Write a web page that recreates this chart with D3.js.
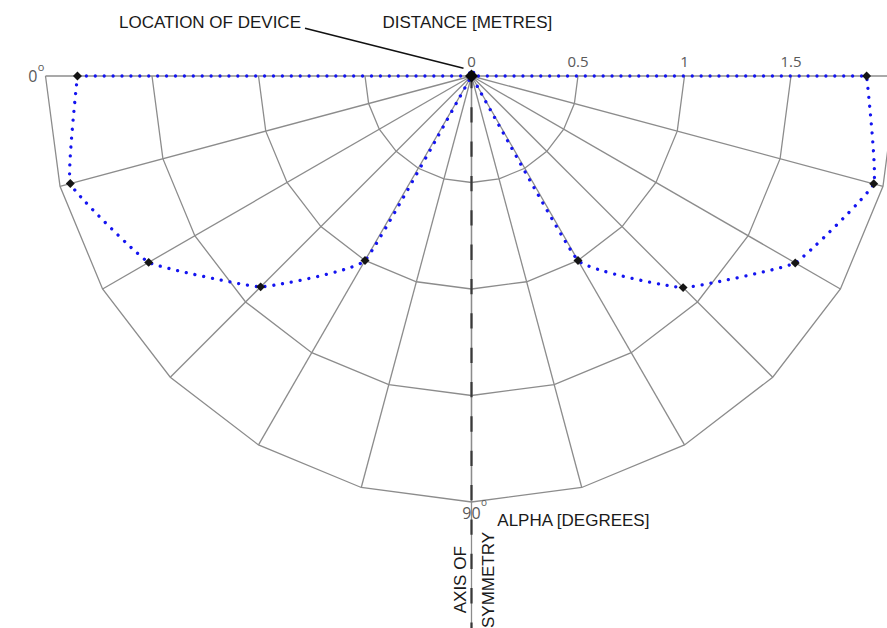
<!DOCTYPE html>
<html>
<head>
<meta charset="utf-8">
<script src="https://cdn.jsdelivr.net/npm/d3@7/dist/d3.min.js"></script>
<style>
  html, body { margin: 0; padding: 0; background: #fff; }
  svg { display: block; }
  .lbl { font-family: "Liberation Sans", Arial, sans-serif; font-size: 17px; fill: #1a1a1a; }
  .tick { font-family: "Open Sans", "Noto Sans", sans-serif; font-size: 15px; fill: #595959; }
  .deg { font-family: "Open Sans", "Noto Sans", sans-serif; font-size: 16px; fill: #595959; }
</style>
</head>
<body>
<svg id="chart" width="887" height="628"></svg>
<script>
// ---------------- DATA ----------------
const alphaAngles   = [0, 15, 30, 45, 60, 75, 90];            // degrees
const leftDistance  = [1.85, 1.95, 1.75, 1.40, 1.00, 0, 0];    // metres
const rightDistance = [1.855, 1.955, 1.755, 1.405, 1.00, 0, 0];// metres
const ringValues    = [0.5, 1, 1.5, 2];                        // distance grid
const gridAngles    = [0, 15, 30, 45, 60, 75, 90, 105, 120, 135, 150, 165, 180];
const distTicks     = [0, 0.5, 1, 1.5];
const distTickLabels = ["0", "0.5", "1", "1.5"];

// ---------------- LAYOUT ----------------
const W = 887, H = 628;
const cx = 471.5, cy = 76;
const svg = d3.select("#chart");

const r = d3.scaleLinear().domain([0, 2]).range([0, 426]);
const theta = d3.scaleLinear().domain([0, 180]).range([0, Math.PI]);

// unified angle t: 0 = left horizontal, 90 = down, 180 = right horizontal
function polar(t, d) {
  const a = theta(t);
  return [cx - r(d) * Math.cos(a), cy + r(d) * Math.sin(a)];
}

const gridColor = "#8c8c8c";

// rings
const ringLine = d3.line();
svg.append("g").selectAll("path")
  .data(ringValues).join("path")
  .attr("d", v => ringLine(gridAngles.map(t => polar(t, v))))
  .attr("fill", "none")
  .attr("stroke", gridColor)
  .attr("stroke-width", 1.3);

// spokes
svg.append("g").selectAll("line")
  .data(gridAngles).join("line")
  .attr("x1", t => polar(t, 0)[0]).attr("y1", t => polar(t, 0)[1])
  .attr("x2", t => polar(t, 2)[0]).attr("y2", t => polar(t, 2)[1])
  .attr("stroke", gridColor)
  .attr("stroke-width", 1.3);

// axis of symmetry (dashed)
const axisTop = polar(90, 0);
svg.append("line")
  .attr("x1", axisTop[0]).attr("y1", axisTop[1])
  .attr("x2", axisTop[0]).attr("y2", H + 5)
  .attr("stroke", gridColor).attr("stroke-width", 1.3);
svg.append("line")
  .attr("x1", axisTop[0]).attr("y1", axisTop[1])
  .attr("x2", axisTop[0]).attr("y2", H + 5)
  .attr("stroke", "#383838")
  .attr("stroke-width", 2.2)
  .attr("stroke-dasharray", "15.3,19.05")
  .attr("stroke-dashoffset", 3.15);

// ---------------- SERIES ----------------
const leftPts  = alphaAngles.map((a, i) => polar(a, leftDistance[i]));
const rightPts = alphaAngles.map((a, i) => polar(180 - a, rightDistance[i]));
const loopPts = leftPts.concat(rightPts.slice().reverse());

const curve = d3.line().curve(d3.curveCardinal.tension(0.7));
const dotStyle = sel => sel
  .attr("fill", "none")
  .attr("stroke", "#1414f0")
  .attr("stroke-width", 3.3)
  .attr("stroke-linecap", "round")
  .attr("stroke-dasharray", "0.01,8.9");

svg.append("path").attr("d", curve(loopPts)).call(dotStyle);
svg.append("path").attr("d", d3.line()([leftPts[0], rightPts[0]])).call(dotStyle);

// markers
const diamond = d3.symbol().type(d3.symbolSquare).size(40);
svg.append("g").selectAll("path")
  .data(leftPts.concat(rightPts)).join("path")
  .attr("d", diamond)
  .attr("transform", p => `translate(${p[0]},${p[1]}) rotate(45)`)
  .attr("fill", "#151515");

// device location marker (origin)
const origin = polar(0, 0);
svg.append("path")
  .attr("d", d3.symbol().type(d3.symbolSquare).size(85))
  .attr("transform", `translate(${origin[0]},${origin[1]}) rotate(45)`)
  .attr("fill", "#0a0a0a");

// ---------------- TEXT ----------------
svg.append("g").selectAll("text")
  .data(distTicks).join("text")
  .attr("class", "tick")
  .attr("x", (d) => polar(180, d)[0])
  .attr("y", cy - 9.5)
  .attr("text-anchor", "middle")
  .text((d, i) => distTickLabels[i]);

// 0 degree label
const p0 = polar(0, 2);
svg.append("text").attr("class", "deg")
  .attr("x", p0[0] - 8).attr("y", cy + 5.6)
  .attr("text-anchor", "end").text("0");
svg.append("text").attr("class", "deg").style("font-size", "11px")
  .attr("x", p0[0] - 7.8).attr("y", cy - 4.8).text("o");

// 90 degree label
const p90 = polar(90, 2);
svg.append("text").attr("class", "deg")
  .attr("x", p90[0]).attr("y", p90[1] + 17.3)
  .attr("text-anchor", "middle").text("90");
svg.append("text").attr("class", "deg").style("font-size", "10px")
  .attr("x", p90[0] + 9.6).attr("y", p90[1] + 3.6).text("o");

svg.append("text").attr("class", "lbl").attr("x", 119).attr("y", 28.3).text("LOCATION OF DEVICE");
svg.append("text").attr("class", "lbl").attr("x", 382.5).attr("y", 28.3).text("DISTANCE [METRES]");
svg.append("text").attr("class", "lbl").attr("x", 497.3).attr("y", 526).text("ALPHA [DEGREES]");

svg.append("line")
  .attr("x1", 305).attr("y1", 28.3)
  .attr("x2", origin[0] - 8).attr("y2", origin[1] - 7.7)
  .attr("stroke", "#111").attr("stroke-width", 1.5);

svg.append("text").attr("class", "lbl")
  .attr("transform", "translate(465.7,613.3) rotate(-90)")
  .text("AXIS OF");
svg.append("text").attr("class", "lbl")
  .attr("transform", "translate(494,628) rotate(-90)")
  .text("SYMMETRY");
</script>
</body>
</html>
